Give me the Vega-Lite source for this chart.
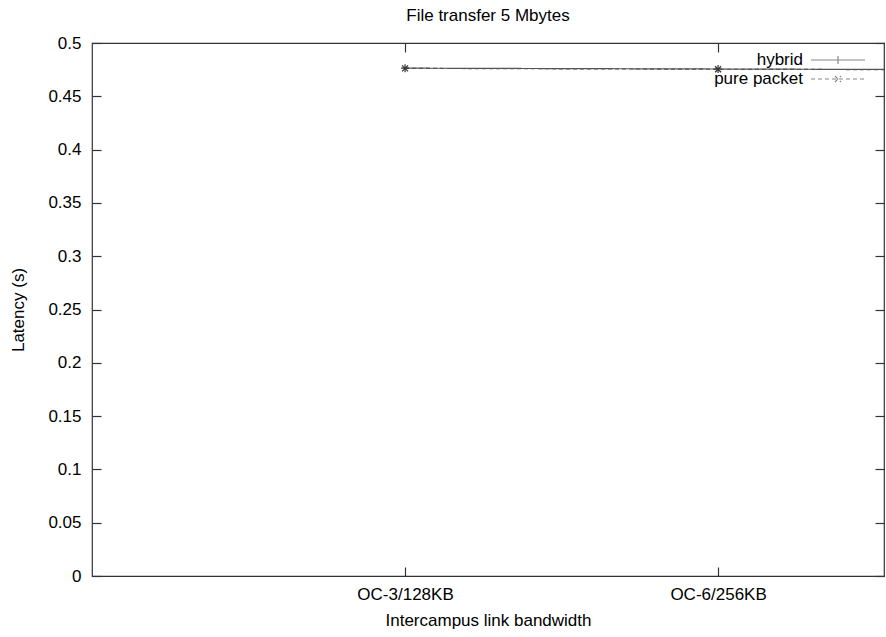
{
  "$schema": "https://vega.github.io/schema/vega-lite/v6.json",
  "width": 792,
  "height": 533,
  "autosize": {"type": "none"},
  "padding": {"left": 92, "top": 43, "right": 2, "bottom": 61},
  "background": "white",
  "config": {
    "font": "Liberation Sans",
    "view": {"stroke": "#333333", "strokeWidth": 1.2},
    "axis": {"grid": false, "domain": false, "labelFont": "Liberation Sans", "titleFont": "Liberation Sans", "labelFontSize": 17, "titleFontSize": 17, "labelColor": "#000000", "titleColor": "#000000", "titleFontWeight": "normal", "tickColor": "#333333", "tickWidth": 1.2}
  },
  "title": {"text": "File transfer 5 Mbytes", "fontSize": 17, "fontWeight": "normal", "font": "Liberation Sans", "color": "#000000", "offset": 9, "anchor": "middle"},
  "data": {
    "values": [
      {"idx": 1, "bandwidth": "OC-3/128KB", "series": "hybrid", "latency": 0.4764},
      {"idx": 2, "bandwidth": "OC-6/256KB", "series": "hybrid", "latency": 0.4756},
      {"idx": 3, "bandwidth": "OC-12/512KB", "series": "hybrid", "latency": 0.4748},
      {"idx": 1, "bandwidth": "OC-3/128KB", "series": "pure packet", "latency": 0.4762},
      {"idx": 2, "bandwidth": "OC-6/256KB", "series": "pure packet", "latency": 0.4754},
      {"idx": 3, "bandwidth": "OC-12/512KB", "series": "pure packet", "latency": 0.4747}
    ]
  },
  "resolve": {"axis": {"x": "independent", "y": "independent"}},
  "layer": [
    {
      "mark": {"type": "line", "clip": true, "color": "#555555", "strokeWidth": 1.2},
      "encoding": {
        "x": {"field": "idx", "type": "quantitative", "scale": {"domain": [0, 2.53], "nice": false, "zero": false},
          "axis": {"orient": "bottom", "values": [1, 2], "labelExpr": "datum.value == 1 ? 'OC-3/128KB' : (datum.value == 2 ? 'OC-6/256KB' : '')", "tickSize": -9, "labelPadding": 19, "title": "Intercampus link bandwidth", "titlePadding": 10}},
        "y": {"field": "latency", "type": "quantitative", "scale": {"domain": [0, 0.5], "nice": false},
          "axis": {"orient": "left", "values": [0, 0.05, 0.1, 0.15, 0.2, 0.25, 0.3, 0.35, 0.4, 0.45, 0.5], "format": "~g", "tickSize": -9, "labelPadding": 20, "title": "Latency (s)", "titlePadding": 20}},
        "strokeDash": {"field": "series", "type": "nominal", "scale": {"domain": ["hybrid", "pure packet"], "range": [[1, 0], [4, 3]]},
          "legend": {"title": null, "orient": "none", "legendX": 737.5, "legendY": 8.5, "padding": 0, "labelFontSize": 17, "labelFont": "Liberation Sans", "labelColor": "#000000", "labelAlign": "right", "labelOffset": -43.5, "symbolSize": 100, "symbolStrokeColor": "#888888", "symbolStrokeWidth": 1.2, "symbolFillColor": "transparent", "rowPadding": 1,
            "encode": {"symbols": {"update": {"shape": {"signal": "datum.value === 'hybrid' ? 'M-5.4,0H5.4M0,-0.8V0.8' : 'M-5.4,0H5.4M-0.6,-0.6L0.6,0.6M-0.6,0.6L0.6,-0.6'"}, "fill": {"value": "transparent"}, "stroke": {"value": "#888888"}}}}}},
        "detail": {"field": "series", "type": "nominal"}
      }
    },
    {
      "transform": [{"filter": "datum.series === 'hybrid'"}],
      "mark": {"type": "point", "clip": true, "filled": false, "color": "#333333", "strokeWidth": 1.2, "size": 64, "opacity": 1, "shape": "M-1,0H1M0,-1V1"},
      "encoding": {
        "x": {"field": "idx", "type": "quantitative", "scale": {"domain": [0, 2.53], "nice": false, "zero": false},
          "axis": {"orient": "top", "values": [1, 2], "labels": false, "tickSize": -9, "title": null}},
        "y": {"field": "latency", "type": "quantitative", "scale": {"domain": [0, 0.5], "nice": false},
          "axis": {"orient": "right", "values": [0, 0.05, 0.1, 0.15, 0.2, 0.25, 0.3, 0.35, 0.4, 0.45, 0.5], "labels": false, "tickSize": -9, "title": null}}
      }
    },
    {
      "transform": [{"filter": "datum.series === 'pure packet'"}],
      "mark": {"type": "point", "clip": true, "filled": false, "color": "#333333", "strokeWidth": 1.2, "size": 64, "opacity": 1, "shape": "M-0.75,-0.75L0.75,0.75M-0.75,0.75L0.75,-0.75"},
      "encoding": {
        "x": {"field": "idx", "type": "quantitative", "scale": {"domain": [0, 2.53], "nice": false, "zero": false}, "axis": null},
        "y": {"field": "latency", "type": "quantitative", "scale": {"domain": [0, 0.5], "nice": false}, "axis": null}
      }
    }
  ]
}
